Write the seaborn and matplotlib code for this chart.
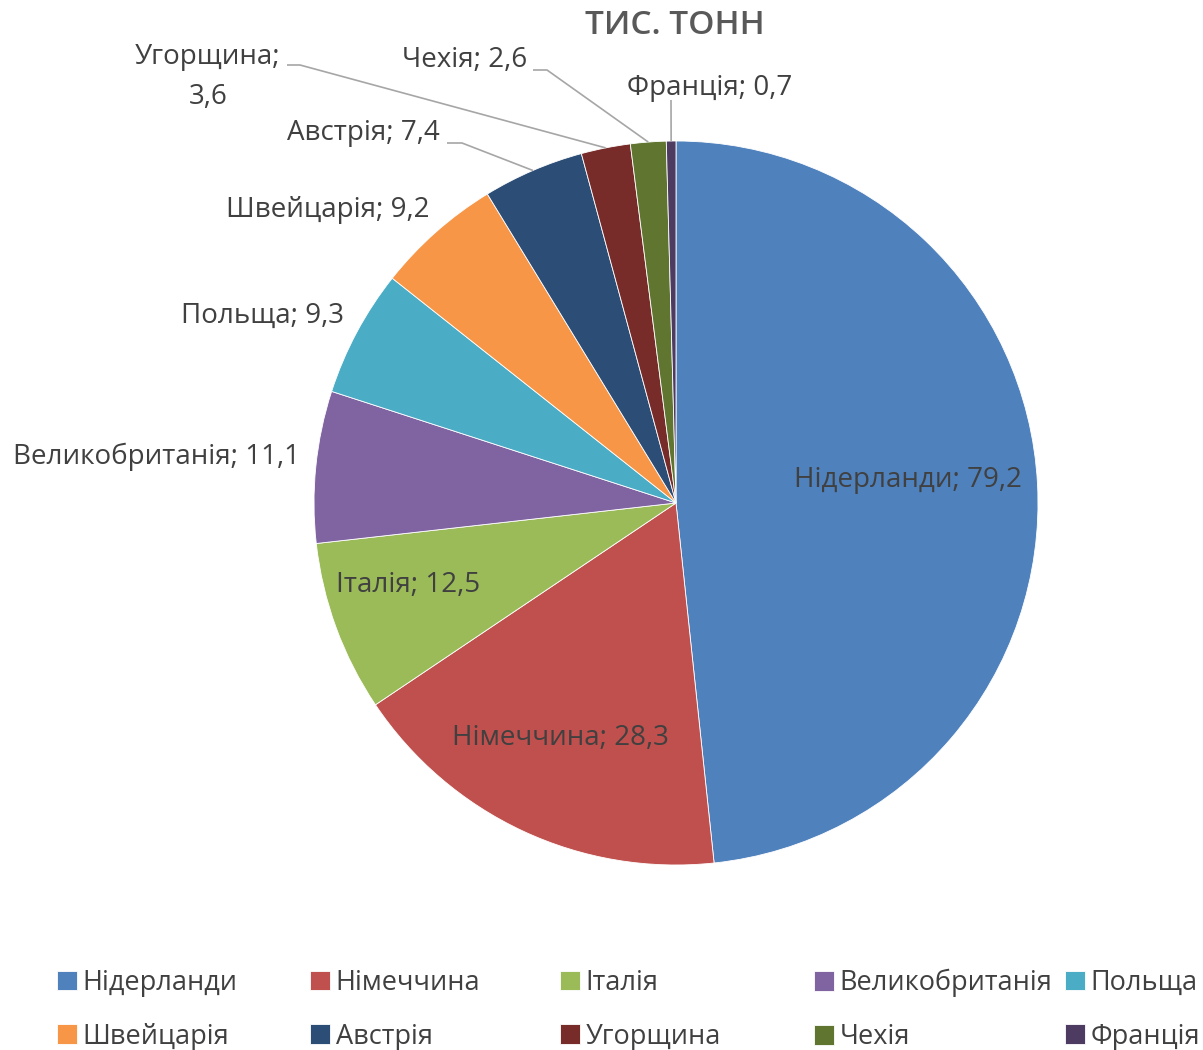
import matplotlib
matplotlib.use("Agg")
import matplotlib.pyplot as plt
import seaborn as sns
import numpy as np

# ---- data ----
countries = ["Нідерланди", "Німеччина", "Італія", "Великобританія", "Польща",
             "Швейцарія", "Австрія", "Угорщина", "Чехія", "Франція"]
values = [79.2, 28.3, 12.5, 11.1, 9.3, 9.2, 7.4, 3.6, 2.6, 0.7]
title = "ТИС. ТОНН"
palette_hex = ["#4F81BD", "#C0504D", "#9BBB59", "#8064A2", "#4BACC6",
               "#F79646", "#2C4D75", "#772C2A", "#5F7530", "#4D3B62"]

sns.set_theme(style="white")
plt.rcParams['font.family'] = ['Open Sans', 'DejaVu Sans']
colors = sns.color_palette(palette_hex)

W, H = 1203, 1050
CX, CY, R = 676, 503, 362

fig = plt.figure(figsize=(W / 100, H / 100), dpi=100)
ax = fig.add_axes([0, 0, 1, 1])


def px(x, y):
    return ((x - CX) / R, (CY - y) / R)


wedges, _ = ax.pie(values, colors=colors, startangle=90, counterclock=False,
                   radius=1.0, center=(0, 0), frame=True,
                   wedgeprops=dict(edgecolor="white", linewidth=0.6))
ax.set_xlim(-CX / R, (W - CX) / R)
ax.set_ylim(-(H - CY) / R, CY / R)
ax.set_aspect("auto")
ax.axis("off")

txt_color = "#404040"
fs = 20


def fmt(v):
    return f"{v:.1f}".replace(".", ",")


# label layout: (pixel x, pixel y, ha)
layout = {
    "Нідерланди": (908, 480, "center"),
    "Німеччина": (560, 738, "center"),
    "Італія": (408, 585, "center"),
    "Великобританія": (300, 457, "right"),
    "Польща": (344, 316, "right"),
    "Швейцарія": (430, 210, "right"),
    "Австрія": (440, 133, "right"),
    "Угорщина": (208, 77, "center"),
    "Чехія": (527, 60, "right"),
    "Франція": (710, 88, "center"),
}
# leader line start points (pixel) for outside labels
leaders = {
    "Австрія": [(447, 143), (462, 143)],
    "Угорщина": [(287, 65), (300, 65)],
    "Чехія": [(533, 70), (547, 70)],
    "Франція": [(671, 100)],
}

for w, name, v in zip(wedges, countries, values):
    x, y, ha = layout[name]
    if name == "Угорщина":
        s = f"{name};\n{fmt(v)}"
    else:
        s = f"{name}; {fmt(v)}"
    tx, ty = px(x, y)
    ax.text(tx, ty, s, ha=ha, va="center", fontsize=fs, color=txt_color,
            linespacing=1.6)
    if name in leaders:
        ang = np.deg2rad((w.theta1 + w.theta2) / 2)
        ex, ey = np.cos(ang), np.sin(ang)
        pts = [px(*p) for p in leaders[name]] + [(ex, ey)]
        ax.plot([p[0] for p in pts], [p[1] for p in pts], color="#A6A6A6",
                lw=1.2, solid_capstyle="butt")

tx, ty = px(675, 26)
ax.text(tx, ty, title, ha="center", va="center", fontsize=24,
        fontweight="semibold", color="#595959")

# legend: five columns of two entries (row-major order)
col_x = [57, 310, 560, 814, 1065]
for i, cx in enumerate(col_x):
    fig.legend(handles=[wedges[i], wedges[i + 5]],
               labels=[countries[i], countries[i + 5]],
               loc="upper left", bbox_to_anchor=(cx / W, 1 - 969 / H),
               frameon=False, fontsize=19.5, labelcolor=txt_color,
               handlelength=0.75, handleheight=0.75, handletextpad=0.2,
               labelspacing=0.95, borderpad=0, borderaxespad=0)

fig.savefig("out.png", dpi=100)
